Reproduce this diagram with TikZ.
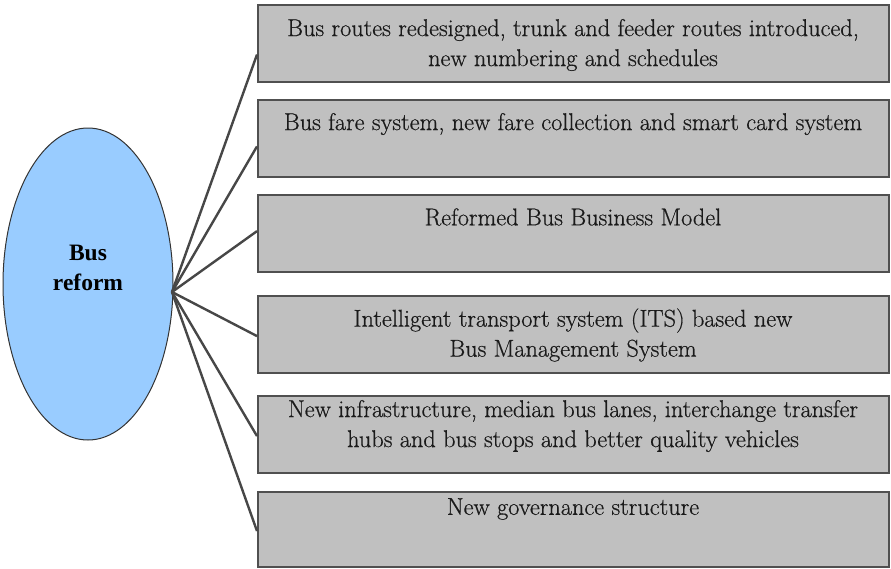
\documentclass[tikz,border=0pt]{standalone}
\usepackage{fontspec}
\newfontfamily\itemfont{Latin Modern Roman}[FakeBold=0.5]
\newfontfamily\boldfam{Liberation Serif}
\usetikzlibrary{shapes.geometric,calc}
\definecolor{boxfill}{HTML}{C0C0C0}
\definecolor{boxline}{HTML}{505050}
\definecolor{ellfill}{HTML}{99CCFF}
\definecolor{linkcol}{HTML}{474747}
\definecolor{txt}{HTML}{1A1A1A}
\tikzset{
  itembox/.style={draw=boxline, line width=2pt, fill=boxfill, rectangle, inner sep=0pt,
    minimum width=631pt, minimum height=77pt, anchor=north west},
  itemtext/.style={align=center, text=txt, inner sep=0pt,
    font=\itemfont\fontsize{24.3pt}{30pt}\selectfont},
  link/.style={draw=linkcol, line width=2.4pt},
}
\begin{document}
\begin{tikzpicture}[x=1pt,y=-1pt]
\useasboundingbox (0,0) rectangle (891,568);
% central ellipse
\node[ellipse, draw=black!80, line width=1pt, fill=ellfill, minimum width=170pt, minimum height=312pt, inner sep=0pt] (e) at (88,284) {};
\node[align=center, inner sep=0pt, font=\boldfam\fontsize{23.5pt}{30pt}\selectfont\bfseries, text=black] (et) at (88,268) {Bus\\reform};
\coordinate (hub) at (172,292);
% boxes
\node[itembox] (b1) at (257,4) {};
\node[itembox] (b2) at (257,99) {};
\node[itembox] (b3) at (257,194) {};
\node[itembox] (b4) at (257,295) {};
\node[itembox] (b5) at (257,395) {};
\node[itembox, minimum height=75pt] (b6) at (257,491) {};
% texts
\node[itemtext] (t1) at (573,45) {Bus routes redesigned, trunk and feeder routes introduced,\\new numbering and schedules};
\node[itemtext] (t2) at (573,124) {Bus fare system, new fare collection and smart card system};
\node[itemtext] (t3) at (573,217) {Reformed Bus Business Model};
\node[itemtext] (t4) at (573,335) {Intelligent transport system (ITS) based new\\Bus Management System};
\node[itemtext] (t5) at (573,426) {New infrastructure, median bus lanes, interchange transfer\\hubs and bus stops and better quality vehicles};
\node[itemtext] (t6) at (573,509) {New governance structure};
% connectors
\coordinate (p1) at ($(b1.north west)!0.64!(b1.south west)$);
\coordinate (p2) at ($(b2.north west)!0.60!(b2.south west)$);
\coordinate (p3) at ($(b3.north west)!0.47!(b3.south west)$);
\coordinate (p4) at ($(b4.north west)!0.52!(b4.south west)$);
\coordinate (p5) at ($(b5.north west)!0.52!(b5.south west)$);
\coordinate (p6) at ($(b6.north west)!0.52!(b6.south west)$);
\foreach \p in {p1,p2,p3,p4,p5,p6}{\draw[link] (hub) -- (\p);}
\end{tikzpicture}
\end{document}
